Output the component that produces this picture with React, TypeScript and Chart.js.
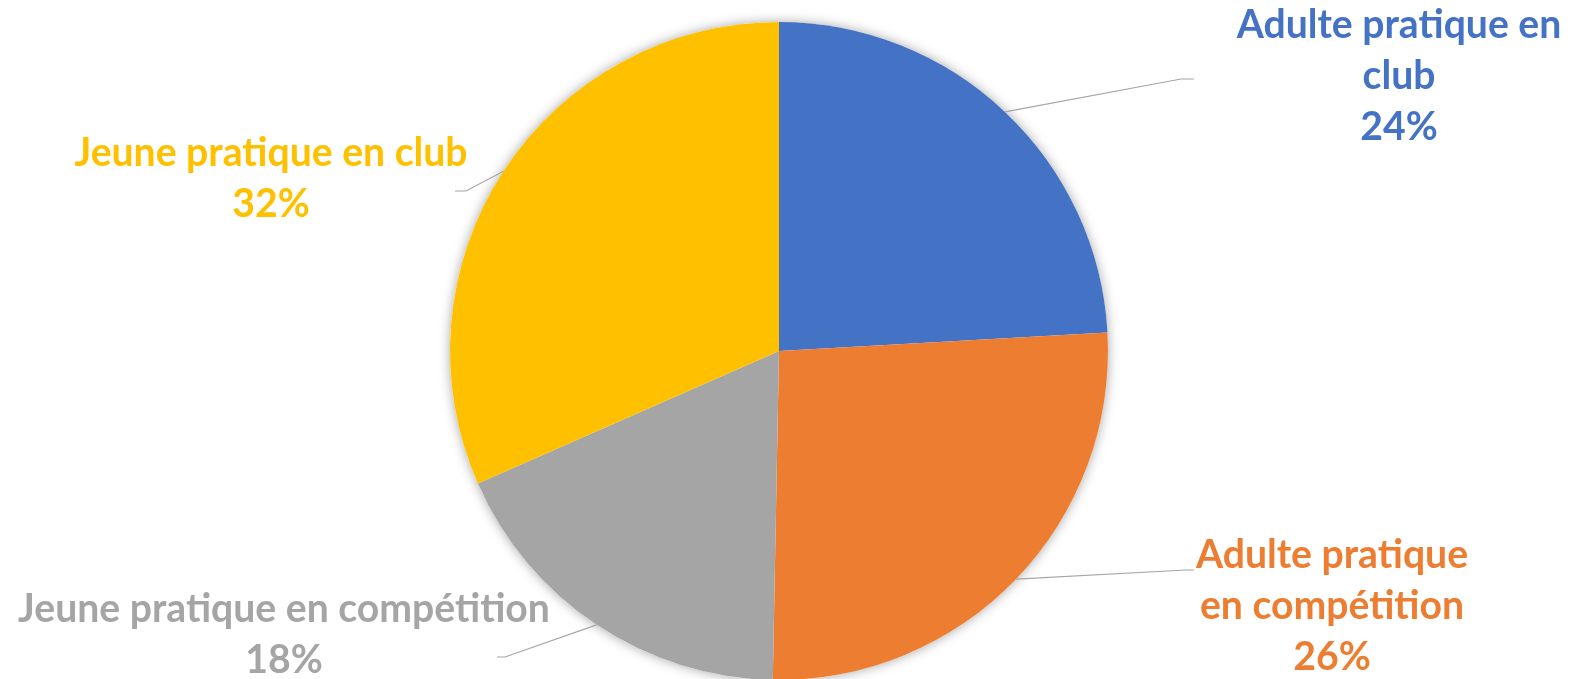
import React, { useEffect, useRef } from "react";
import { Chart, registerables } from "chart.js";

Chart.register(...registerables);

const categories = [
  "Adulte pratique en club",
  "Adulte pratique en compétition",
  "Jeune pratique en compétition",
  "Jeune pratique en club",
];
const values = [24.1, 26.2, 18.1, 31.6];
const colors = ["#4472C4", "#ED7D31", "#A5A5A5", "#FFC000"];

// label layout (pixels): centre x, baselines start, wrap width, leader elbow/end
const labelLayout = [
  { cx: 1399, base: 38, maxWidth: 345, elbow: [1181, 79], end: [1194, 79] },
  { cx: 1332, base: 568, maxWidth: 300, elbow: [1186, 570], end: [1194, 570] },
  { cx: 284, base: 622, maxWidth: 620, elbow: [505, 657], end: [497, 657] },
  { cx: 271, base: 166, maxWidth: 620, elbow: [466, 191], end: [455, 191] },
];
const LINE_H = 51;
const FONT_FAMILY = "Lato";
const FIT_TEXT = "Jeune pratique en compétition";
const FIT_WIDTH = 532;

function wrap(ctx: CanvasRenderingContext2D, text: string, maxWidth: number) {
  const words = text.split(" ");
  const lines: string[] = [];
  let cur = "";
  for (const w of words) {
    const t = cur ? cur + " " + w : w;
    if (ctx.measureText(t).width > maxWidth && cur) {
      lines.push(cur);
      cur = w;
    } else cur = t;
  }
  if (cur) lines.push(cur);
  return lines;
}

const shadowPlugin = {
  id: "pieShadow",
  beforeDatasetsDraw(chart: any) {
    const arc = chart.getDatasetMeta(0).data[0];
    if (!arc) return;
    const ctx = chart.ctx;
    ctx.save();
    ctx.shadowColor = "rgba(0,0,0,0.35)";
    ctx.shadowBlur = 12;
    ctx.beginPath();
    ctx.arc(arc.x, arc.y, arc.outerRadius, 0, Math.PI * 2);
    ctx.fillStyle = "#ffffff";
    ctx.fill();
    ctx.restore();
  },
};

const labelPlugin = {
  id: "pieLabels",
  afterDraw(chart: any) {
    const ctx: CanvasRenderingContext2D = chart.ctx;
    const meta = chart.getDatasetMeta(0);
    const data: number[] = chart.data.datasets[0].data;
    const total = data.reduce((a, b) => a + b, 0);
    ctx.save();
    ctx.font = `bold 100px ${FONT_FAMILY}`;
    const size = (100 * FIT_WIDTH) / ctx.measureText(FIT_TEXT).width;
    ctx.font = `bold ${size}px ${FONT_FAMILY}`;
    meta.data.forEach((arc: any, i: number) => {
      const L = labelLayout[i];
      const mid = (arc.startAngle + arc.endAngle) / 2;
      const sx = arc.x + Math.cos(mid) * arc.outerRadius;
      const sy = arc.y + Math.sin(mid) * arc.outerRadius;
      ctx.strokeStyle = "#A6A6A6";
      ctx.lineWidth = 1.2;
      ctx.beginPath();
      ctx.moveTo(sx, sy);
      ctx.lineTo(L.elbow[0], L.elbow[1]);
      ctx.lineTo(L.end[0], L.end[1]);
      ctx.stroke();

      const lines = wrap(ctx, chart.data.labels[i], L.maxWidth);
      lines.push(Math.round((data[i] / total) * 100) + "%");
      ctx.fillStyle = colors[i];
      ctx.textAlign = "center";
      ctx.textBaseline = "alphabetic";
      lines.forEach((ln, k) => ctx.fillText(ln, L.cx, L.base + k * LINE_H));
    });
    ctx.restore();
  },
};

export default function App() {
  const ref = useRef<HTMLCanvasElement | null>(null);
  useEffect(() => {
    document.body.style.margin = "0";
    const chart = new Chart(ref.current as HTMLCanvasElement, {
      type: "pie",
      data: {
        labels: categories,
        datasets: [
          {
            data: values,
            backgroundColor: colors,
            borderWidth: 0,
          },
        ],
      },
      options: {
        animation: false,
        responsive: false,
        events: [],
        layout: { padding: { top: 22, bottom: 20, left: 0, right: 13 } },
        plugins: {
          legend: { display: false },
          tooltip: { enabled: false },
        },
      },
      plugins: [shadowPlugin, labelPlugin],
    });
    return () => chart.destroy();
  }, []);
  return (
    <div style={{ width: 1571, height: 679, overflow: "hidden", position: "relative", background: "#fff" }}>
      <canvas ref={ref} width={1571} height={700} style={{ display: "block" }} />
    </div>
  );
}
